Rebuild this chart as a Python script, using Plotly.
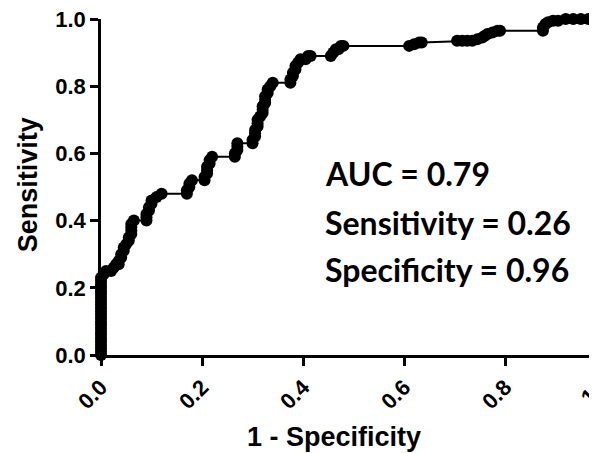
import plotly.graph_objects as go

# ROC curve points (1 - specificity, sensitivity)
fpr = [0.0, 0.0, 0.0, 0.0, 0.0, 0.0, 0.0, 0.0, 0.0, 0.0, 0.0, 0.0,
       0.0, 0.0, 0.0, 0.0, 0.0, 0.0, 0.0, 0.0, 0.0, 0.0, 0.0, 0.0,
       0.005, 0.01, 0.02, 0.025, 0.03, 0.035, 0.035, 0.04, 0.04, 0.045, 0.045, 0.05,
       0.055, 0.055, 0.06, 0.06, 0.06, 0.06, 0.065,
       0.09, 0.09, 0.09, 0.095, 0.095, 0.10, 0.10, 0.11, 0.12,
       0.17, 0.17, 0.175, 0.175, 0.18,
       0.205, 0.205, 0.21, 0.21, 0.21, 0.215, 0.215, 0.22,
       0.265, 0.265, 0.27, 0.27, 0.27,
       0.30, 0.30, 0.305, 0.305, 0.305, 0.31, 0.31, 0.31, 0.315, 0.32, 0.32, 0.32,
       0.325, 0.325, 0.325, 0.33, 0.33, 0.335, 0.34,
       0.375, 0.375, 0.38, 0.38, 0.385, 0.385, 0.39, 0.395, 0.405, 0.41, 0.415,
       0.455, 0.46, 0.465, 0.47, 0.475, 0.48,
       0.61, 0.62, 0.63, 0.635,
       0.705, 0.715, 0.725, 0.735, 0.745, 0.755, 0.76, 0.765, 0.775, 0.785, 0.79,
       0.875, 0.875, 0.88, 0.885, 0.895, 0.905, 0.92, 0.935, 0.95, 0.965, 0.98, 0.995, 1.0]
tpr = [0.00, 0.01, 0.02, 0.03, 0.04, 0.05, 0.06, 0.07, 0.08, 0.09, 0.10, 0.11,
       0.12, 0.13, 0.14, 0.15, 0.16, 0.17, 0.18, 0.19, 0.20, 0.21, 0.22, 0.23,
       0.24, 0.25, 0.25, 0.26, 0.27, 0.27, 0.28, 0.29, 0.30, 0.31, 0.32, 0.33,
       0.34, 0.35, 0.36, 0.37, 0.38, 0.39, 0.40,
       0.40, 0.41, 0.42, 0.43, 0.44, 0.45, 0.46, 0.47, 0.48,
       0.48, 0.49, 0.50, 0.51, 0.52,
       0.52, 0.53, 0.54, 0.55, 0.56, 0.57, 0.58, 0.59,
       0.59, 0.60, 0.61, 0.62, 0.63,
       0.63, 0.64, 0.65, 0.66, 0.67, 0.68, 0.69, 0.70, 0.71, 0.72, 0.73, 0.74,
       0.75, 0.76, 0.77, 0.78, 0.79, 0.80, 0.81,
       0.81, 0.82, 0.83, 0.84, 0.85, 0.86, 0.87, 0.88, 0.88, 0.89, 0.89,
       0.89, 0.90, 0.91, 0.91, 0.92, 0.92,
       0.92, 0.925, 0.93, 0.93,
       0.935, 0.935, 0.935, 0.935, 0.94, 0.945, 0.95, 0.955, 0.96, 0.965, 0.965,
       0.965, 0.975, 0.985, 0.99, 0.995, 0.995, 1.0, 1.0, 1.0, 1.0, 1.0, 1.0, 1.0]

x_ticks = [0.0, 0.2, 0.4, 0.6, 0.8]
x_tick_labels = ["0.0", "0.2", "0.4", "0.6", "0.8"]
y_ticks = [0.0, 0.2, 0.4, 0.6, 0.8, 1.0]
y_tick_labels = ["0.0", "0.2", "0.4", "0.6", "0.8", "1.0"]
stats_text = ["AUC = 0.79", "Sensitivity = 0.26", "Specificity = 0.96"]
stats_y = [0.54, 0.393, 0.253]

axis_font = dict(family="Liberation Sans, Arial, sans-serif", size=22, color="black", weight="bold")
title_font = dict(family="Liberation Sans, Arial, sans-serif", size=27, color="black", weight="bold")

fig = go.Figure()
fig.add_trace(go.Scatter(
    x=fpr, y=tpr, mode="lines+markers",
    line=dict(color="black", width=2),
    marker=dict(color="black", size=12, line=dict(width=0)),
    cliponaxis=False, showlegend=False,
))

for txt, yy in zip(stats_text, stats_y):
    fig.add_annotation(x=0.44, y=yy, xref="x", yref="y", text=txt, showarrow=False,
                       xanchor="left", yanchor="middle",
                       font=dict(family="Lato, Open Sans, sans-serif", size=32, color="black", weight="bold"))

# the "1.0" tick label of the x axis, cut off by the right border
fig.add_annotation(x=1.0, y=0.0, xref="paper", yref="paper", text="1.0", showarrow=False,
                   textangle=-45, xanchor="center", yanchor="middle", yshift=-35, xshift=-2,
                   font=axis_font)
fig.add_annotation(x=0.47, y=0.0, xref="paper", yref="paper", text="1 - Specificity", showarrow=False,
                   xanchor="center", yanchor="middle", yshift=-82,
                   font=title_font)
fig.add_annotation(x=0.0, y=0.505, xref="paper", yref="paper", text="Sensitivity", showarrow=False,
                   textangle=-90, xanchor="center", yanchor="middle", xshift=-73,
                   font=title_font)

# the page adds an 8 px body margin, so the figure is 8 px smaller than the window
fig.update_layout(
    width=589, height=445,
    margin=dict(l=93, r=0, t=11, b=98),
    paper_bgcolor="white", plot_bgcolor="white",
    xaxis=dict(range=[0, 0.982], showgrid=False, zeroline=False, showline=True,
               linecolor="black", linewidth=2.5, ticks="outside", ticklen=8, tickwidth=2.5,
               tickcolor="black", tickvals=x_ticks, ticktext=x_tick_labels, tickangle=-45,
               tickfont=axis_font, ticklabeloverflow="allow"),
    yaxis=dict(range=[0, 1], showgrid=False, zeroline=False, showline=True,
               linecolor="black", linewidth=2.5, ticks="outside", ticklen=8, tickwidth=2.5,
               tickcolor="black", tickvals=y_ticks, ticktext=y_tick_labels,
               tickfont=axis_font, ticklabeloverflow="allow"),
)

fig.write_html("out.html")
